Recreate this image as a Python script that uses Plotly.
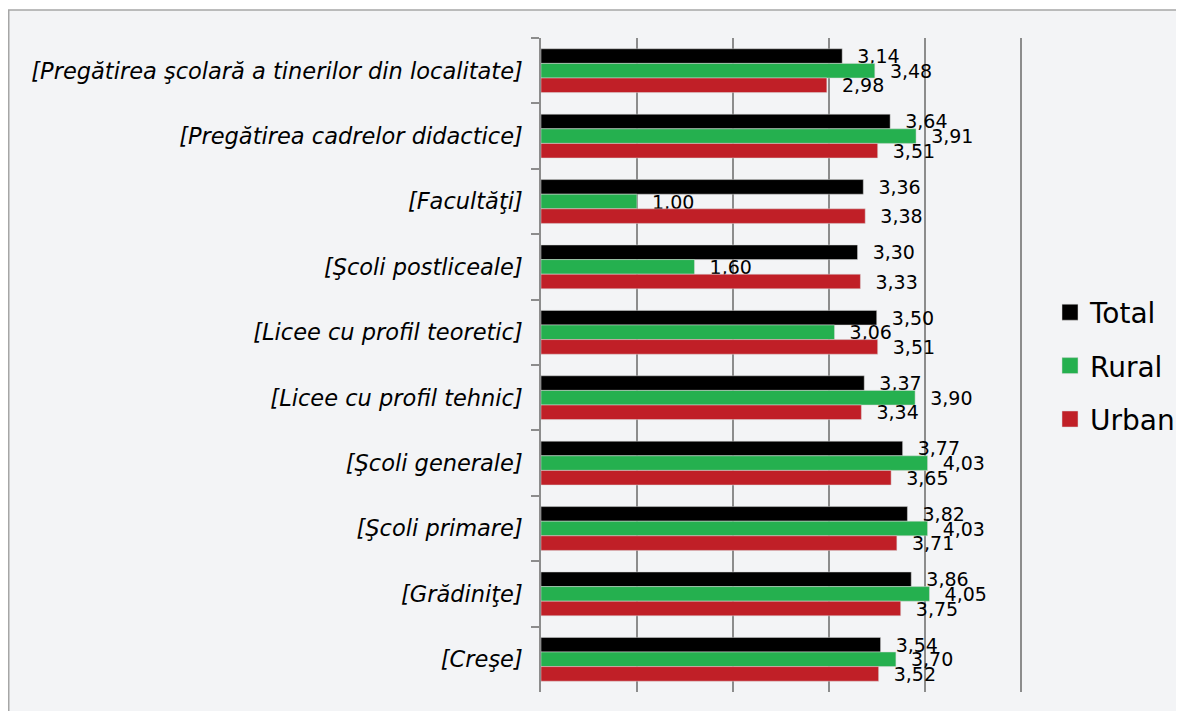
import plotly.graph_objects as go

categories = [
    "[Pregătirea şcolară a tinerilor din localitate]",
    "[Pregătirea cadrelor didactice]",
    "[Facultăţi]",
    "[Şcoli postliceale]",
    "[Licee cu profil teoretic]",
    "[Licee cu profil tehnic]",
    "[Şcoli generale]",
    "[Şcoli primare]",
    "[Grădiniţe]",
    "[Creşe]",
]
total = [3.14, 3.64, 3.36, 3.30, 3.50, 3.37, 3.77, 3.82, 3.86, 3.54]
rural = [3.48, 3.91, 1.00, 1.60, 3.06, 3.90, 4.03, 4.03, 4.05, 3.70]
urban = [2.98, 3.51, 3.38, 3.33, 3.51, 3.34, 3.65, 3.71, 3.75, 3.52]

series = [("Total", total, "#000000"), ("Rural", rural, "#25b04f"), ("Urban", urban, "#c01f27")]

# page body has an 8px margin, so size the figure to fill the rest of the window
OFF = 8
W, H = 1184 - OFF, 711 - OFF
L, T = 541 - OFF, 38 - OFF
R, B = W - (1023 - OFF), H - (692 - OFF)
pw, ph = W - L - R, H - T - B
font = "DejaVu Sans"
grid = "#8c8c8c"

fig = go.Figure()
for name, vals, col in series:
    fig.add_trace(go.Bar(
        y=categories, x=vals, name=name, orientation="h",
        marker=dict(color=col, line=dict(color="#d8d8d8", width=0.5)),
        texttemplate="\u00a0\u00a0%{x:.2f}", textposition="outside", constraintext="none",
        cliponaxis=False, textfont=dict(family=font, size=19, color="#000000"),
        showlegend=False,
    ))
    # legend-only entry so the key square can be a bit larger than the bar default
    fig.add_trace(go.Scatter(
        x=[None], y=[None], mode="markers", name=name, legendgroup=name,
        marker=dict(symbol="square", size=16, color=col, line=dict(color="#d8d8d8", width=0.5)),
    ))

# outer frame of the chart area (white strip at top/left, grey border)
fig.add_shape(type="rect", xref="paper", yref="paper", layer="below",
              x0=(0.75 - L) / pw, x1=2, y0=-0.5, y1=1 + (T - 2) / ph,
              fillcolor="#f3f4f6", line=dict(color="#a6a6a6", width=1.5))

fig.update_layout(
    width=W, height=H,
    margin=dict(l=L, r=R, t=T, b=B, autoexpand=False),
    paper_bgcolor="#ffffff", plot_bgcolor="rgba(0,0,0,0)",
    barmode="group", bargap=0.33, bargroupgap=0,
    separators=",.",
    font=dict(family=font, color="#000000"),
    legend=dict(x=(1050 - OFF - L) / pw, xanchor="left", y=(H - B - (366 - OFF)) / ph, yanchor="middle",
                font=dict(family=font, size=28), traceorder="grouped", tracegroupgap=14,
                bgcolor="rgba(0,0,0,0)"),
)
fig.update_xaxes(range=[0, 5.025], dtick=1, showgrid=True, gridcolor=grid, gridwidth=1.5,
                 zeroline=False, showticklabels=False, showline=False, ticks="")
fig.update_yaxes(autorange="reversed", showline=True, linecolor=grid, linewidth=1.5,
                 ticks="outside", tickson="boundaries", ticklen=8, tickcolor=grid, tickwidth=1.5,
                 ticklabelstandoff=12, showgrid=False,
                 tickfont=dict(family=font, size=22.5, style="italic", color="#000000"))

fig.write_html("out.html")
